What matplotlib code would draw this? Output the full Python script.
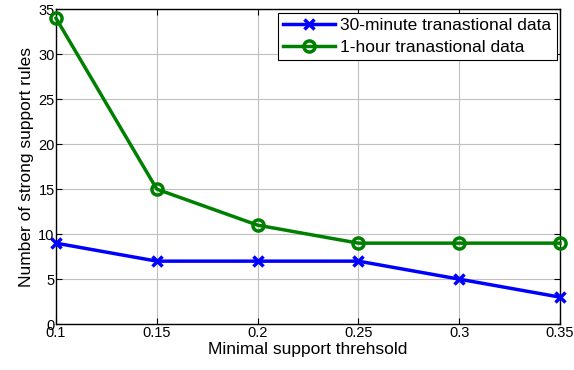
import numpy as np
import matplotlib.pyplot as plt

plt.rcParams['font.family'] = ['Liberation Sans', 'DejaVu Sans']

# minimal support thresholds
support = [0.1, 0.15, 0.2, 0.25, 0.3, 0.35]
rules_30min = [9, 7, 7, 7, 5, 3]
rules_1hour = [34, 15, 11, 9, 9, 9]

xticks = [0.1, 0.15, 0.2, 0.25, 0.3, 0.35]
xtick_labels = ['0.1', '0.15', '0.2', '0.25', '0.3', '0.35']
yticks = [0, 5, 10, 15, 20, 25, 30, 35]

fig = plt.figure(figsize=(5.74, 3.7), dpi=100)
ax = fig.add_axes([0.0976, 0.124, 0.878, 0.851])

ax.plot(support, rules_30min, color='#0000ff', linewidth=2.5, marker='x',
        ms=7, mew=2.5, label='30-minute tranastional data', clip_on=False, zorder=3)
ax.plot(support, rules_1hour, color='#008000', linewidth=2.5, marker='o',
        ms=8, mew=2.5, mfc='none', label='1-hour tranastional data', clip_on=False, zorder=3)

ax.set_xlim(0.1, 0.35)
ax.set_ylim(0, 35)
ax.set_xticks(xticks)
ax.set_xticklabels(xtick_labels)
ax.set_yticks(yticks)
ax.grid(True, color='#c0c0c0', linewidth=0.8, linestyle='-')
ax.tick_params(direction='in', labelsize=10.5, length=4, top=True, right=True, pad=1)
for s in ax.spines.values():
    s.set_linewidth(1.0)

ax.set_xlabel('Minimal support threhsold', fontsize=12.5, labelpad=2)
ax.set_ylabel('Number of strong support rules', fontsize=12.5, labelpad=3)

leg = ax.legend(loc='upper right', fontsize=12.5, fancybox=False, framealpha=1,
                edgecolor='black', borderpad=0.3, handlelength=3.0, handletextpad=0.3,
                labelspacing=0.4, borderaxespad=0.2)
leg.get_frame().set_linewidth(0.8)

fig.savefig('out.png', dpi=100)
